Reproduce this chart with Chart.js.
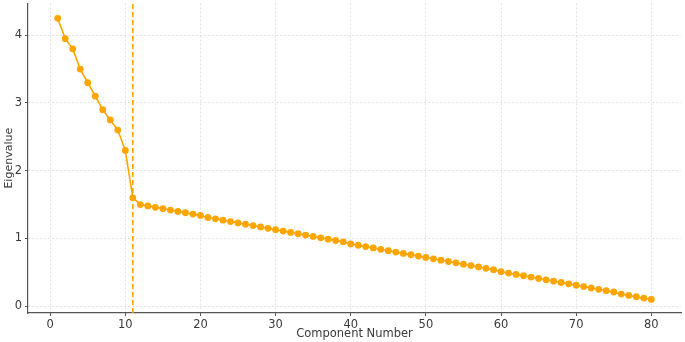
<!DOCTYPE html>
<html>
<head>
<meta charset="utf-8">
<script src="https://cdn.jsdelivr.net/npm/chart.js@4.4.1/dist/chart.umd.min.js"></script>
<style>
    html, body { margin: 0; padding: 0; background: #fff; }
    #wrap { width: 685px; height: 342px; position: relative; }
</style>
</head>
<body>
<div id="wrap"><canvas id="screeChart"></canvas></div>
<script>
// scree plot data
const components = [];
for (let i = 1; i <= 80; i++) components.push(i);

const eigenvalues = [
    4.25, 3.95, 3.80, 3.50, 3.30, 3.10, 2.90, 2.75, 2.60, 2.30,
    1.60, 1.50, 1.48, 1.46, 1.44, 1.42, 1.40, 1.38, 1.36, 1.34,
    1.31, 1.29, 1.27, 1.25, 1.23, 1.21, 1.19, 1.17, 1.15, 1.13,
    1.11, 1.09, 1.07, 1.05, 1.03, 1.01, 0.99, 0.97, 0.95, 0.92,
    0.90, 0.88, 0.86, 0.84, 0.82, 0.80, 0.78, 0.76, 0.74, 0.72,
    0.70, 0.68, 0.66, 0.64, 0.62, 0.60, 0.58, 0.56, 0.54, 0.51,
    0.49, 0.47, 0.45, 0.43, 0.41, 0.39, 0.37, 0.35, 0.33, 0.31,
    0.29, 0.27, 0.25, 0.23, 0.21, 0.18, 0.16, 0.14, 0.12, 0.10
];

const cutoffComponent = 11;
const xTicks = [0, 10, 20, 30, 40, 50, 60, 70, 80];
const yTicks = [0, 1, 2, 3, 4];

const X_MIN = -2.95, X_MAX = 83.95;
const Y_MIN = -0.1, Y_MAX = 4.47;

const orange = "#FFA500";
const axisColor = "#555";
const textColor = "#3a3a3a";
const gridColor = "#e2e2e2";

Chart.defaults.font.family = "'DejaVu Sans', sans-serif";
Chart.defaults.font.size = 11.5;
Chart.defaults.color = textColor;

new Chart(document.getElementById("screeChart"), {
    type: "line",
    data: {
        datasets: [
            {
                label: "Eigenvalues",
                data: components.map((c, i) => ({ x: c, y: eigenvalues[i] })),
                borderColor: orange,
                backgroundColor: orange,
                borderWidth: 1.6,
                pointRadius: 3.4,
                pointHoverRadius: 3.4,
                pointBorderWidth: 0,
                tension: 0
            },
            {
                label: "Cutoff",
                data: [{ x: cutoffComponent, y: Y_MIN }, { x: cutoffComponent, y: Y_MAX }],
                borderColor: orange,
                borderWidth: 1.6,
                borderDash: [5, 3],
                pointRadius: 0,
                pointHoverRadius: 0
            }
        ]
    },
    options: {
        responsive: true,
        maintainAspectRatio: false,
        animation: false,
        layout: { padding: { top: 0, right: 4, bottom: 0, left: 1 } },
        plugins: {
            legend: { display: false },
            tooltip: { enabled: false }
        },
        scales: {
            x: {
                type: "linear",
                min: X_MIN,
                max: X_MAX,
                afterBuildTicks: axis => { axis.ticks = xTicks.map(v => ({ value: v })); },
                afterFit: axis => {
                    axis.height = 29;
                    axis.paddingLeft = 0;
                    axis.paddingRight = 0;
                },
                ticks: { padding: 2, color: textColor },
                grid: {
                    color: gridColor,
                    tickColor: axisColor,
                    tickLength: 3,
                    tickBorderDash: []
                },
                border: { color: axisColor, width: 1.2, dash: [2, 2] },
                title: {
                    display: true,
                    text: "Component Number",
                    color: textColor,
                    padding: { top: 0, bottom: 1 }
                }
            },
            y: {
                type: "linear",
                min: Y_MIN,
                max: Y_MAX,
                afterBuildTicks: axis => { axis.ticks = yTicks.map(v => ({ value: v })); },
                afterFit: axis => {
                    axis.width = 27;
                    axis.paddingTop = 0;
                    axis.paddingBottom = 0;
                },
                ticks: { padding: 3, color: textColor },
                grid: {
                    color: gridColor,
                    tickColor: axisColor,
                    tickLength: 3,
                    tickBorderDash: []
                },
                border: { color: axisColor, width: 1.2, dash: [2, 2] },
                title: {
                    display: true,
                    text: "Eigenvalue",
                    color: textColor,
                    font: { size: 11 },
                    padding: { top: 2, bottom: 0 }
                }
            }
        }
    }
});
</script>
</body>
</html>
